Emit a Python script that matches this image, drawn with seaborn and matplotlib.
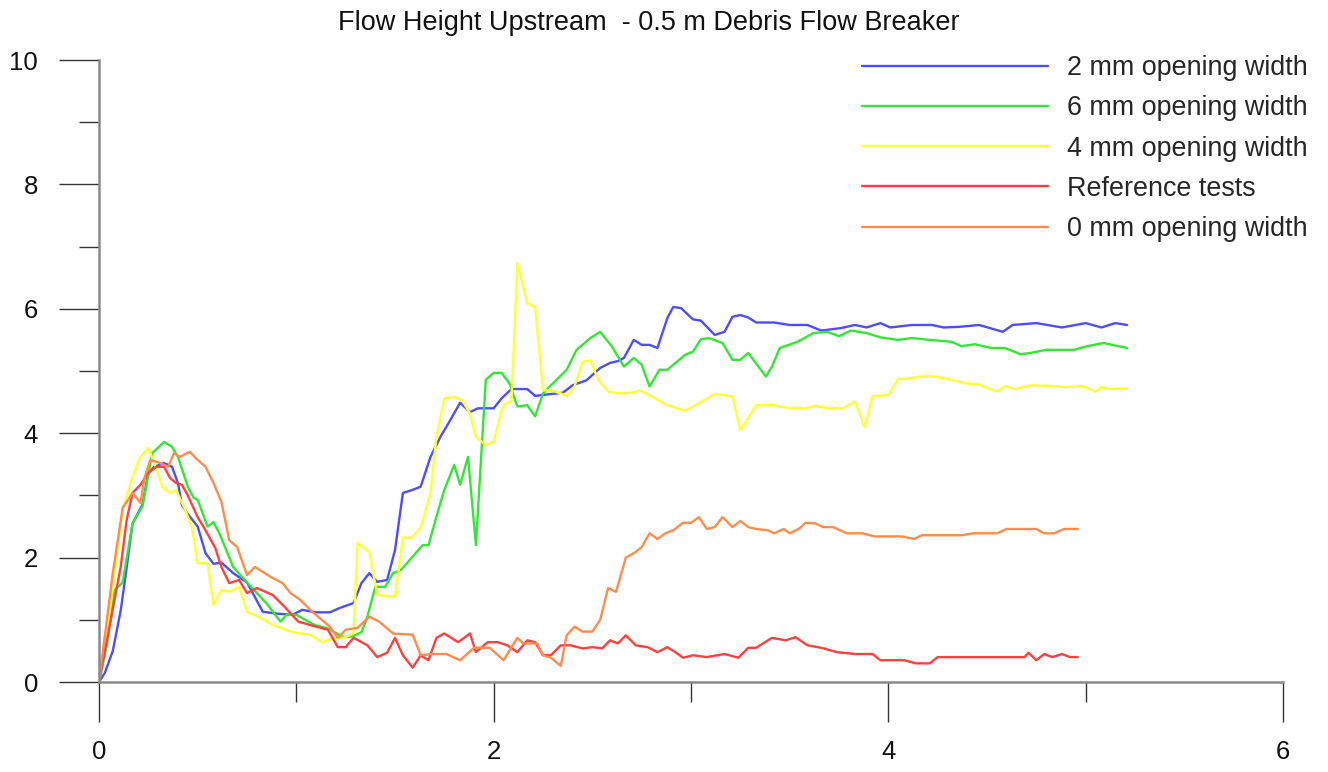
import numpy as np
import pandas as pd
import matplotlib
matplotlib.use("Agg")
import matplotlib.pyplot as plt
import seaborn as sns

# ---------------- data ----------------
blue_x = [0, 0.03, 0.07, 0.11, 0.13, 0.17, 0.22, 0.25, 0.28, 0.33, 0.37, 0.40, 0.42, 0.45, 0.50, 0.54, 0.58, 0.62, 0.68, 0.75,
          0.83, 0.90, 0.98, 1.03, 1.10, 1.17, 1.22, 1.29, 1.33, 1.37, 1.41, 1.46, 1.50, 1.54, 1.59, 1.63, 1.68, 1.73, 1.78, 1.83,
          1.88, 1.92, 2.00, 2.04, 2.09, 2.17, 2.21, 2.29, 2.35, 2.40, 2.47, 2.54, 2.59, 2.63, 2.66, 2.71, 2.75, 2.79, 2.83, 2.88,
          2.91, 2.95, 3.01, 3.05, 3.12, 3.17, 3.21, 3.25, 3.29, 3.33, 3.42, 3.50, 3.59, 3.66, 3.76, 3.83, 3.89, 3.96, 4.01, 4.12,
          4.22, 4.28, 4.36, 4.46, 4.58, 4.63, 4.75, 4.88, 5.00, 5.08, 5.15, 5.21]
blue_y = [0, 0.15, 0.5, 1.15, 1.6, 2.55, 2.85, 3.36, 3.46, 3.52, 3.46, 3.2, 2.85, 2.7, 2.5, 2.07, 1.9, 1.92, 1.75, 1.6,
          1.13, 1.1, 1.08, 1.16, 1.12, 1.12, 1.19, 1.27, 1.59, 1.75, 1.61, 1.64, 2.12, 3.04, 3.09, 3.14, 3.62, 3.94, 4.21, 4.49,
          4.34, 4.4, 4.4, 4.56, 4.71, 4.71, 4.6, 4.63, 4.65, 4.77, 4.85, 5.05, 5.13, 5.16, 5.21, 5.5, 5.42, 5.42, 5.37, 5.85,
          6.03, 6.01, 5.83, 5.81, 5.58, 5.63, 5.87, 5.9, 5.86, 5.78, 5.78, 5.74, 5.74, 5.65, 5.69, 5.74, 5.70, 5.77, 5.70, 5.74,
          5.74, 5.70, 5.71, 5.74, 5.63, 5.74, 5.77, 5.70, 5.77, 5.70, 5.77, 5.74]

green_x = [0, 0.04, 0.08, 0.12, 0.17, 0.22, 0.27, 0.33, 0.37, 0.40, 0.45, 0.48, 0.50, 0.55, 0.58, 0.61, 0.68, 0.73, 0.80, 0.85,
           0.92, 0.95, 1.00, 1.09, 1.16, 1.20, 1.24, 1.28, 1.33, 1.36, 1.40, 1.45, 1.49, 1.53, 1.64, 1.67, 1.71, 1.75, 1.80, 1.83,
           1.87, 1.91, 1.96, 2.00, 2.04, 2.08, 2.12, 2.17, 2.21, 2.25, 2.30, 2.37, 2.42, 2.49, 2.54, 2.60, 2.66, 2.71, 2.75, 2.79,
           2.84, 2.88, 2.97, 3.01, 3.05, 3.09, 3.16, 3.21, 3.25, 3.29, 3.38, 3.41, 3.45, 3.54, 3.62, 3.69, 3.75, 3.81, 3.89, 3.96,
           4.05, 4.12, 4.21, 4.32, 4.37, 4.44, 4.52, 4.59, 4.67, 4.72, 4.80, 4.94, 5.01, 5.09, 5.15, 5.21]
green_y = [0, 0.6, 1.48, 1.6, 2.55, 2.82, 3.68, 3.86, 3.78, 3.62, 3.14, 2.96, 2.93, 2.5, 2.57, 2.39, 1.85, 1.67, 1.43, 1.26,
           0.97, 1.08, 1.08, 0.92, 0.86, 0.79, 0.72, 0.73, 0.80, 1.05, 1.53, 1.53, 1.75, 1.8, 2.2, 2.2, 2.66, 3.09, 3.49, 3.17,
           3.62, 2.2, 4.86, 4.97, 4.97, 4.8, 4.43, 4.45, 4.27, 4.64, 4.8, 5.02, 5.34, 5.53, 5.63, 5.39, 5.07, 5.21, 5.10, 4.75,
           5.02, 5.02, 5.26, 5.31, 5.51, 5.53, 5.45, 5.18, 5.18, 5.29, 4.91, 5.07, 5.37, 5.47, 5.61, 5.63, 5.56, 5.65, 5.61, 5.54,
           5.5, 5.53, 5.50, 5.47, 5.40, 5.43, 5.37, 5.37, 5.27, 5.29, 5.34, 5.34, 5.40, 5.45, 5.41, 5.37]

yellow_x = [0, 0.04, 0.07, 0.12, 0.17, 0.21, 0.25, 0.28, 0.32, 0.36, 0.39, 0.43, 0.47, 0.50, 0.55, 0.58, 0.62, 0.66, 0.71, 0.75,
            0.82, 0.88, 0.98, 1.07, 1.13, 1.19, 1.24, 1.29, 1.31, 1.37, 1.41, 1.50, 1.54, 1.58, 1.63, 1.68, 1.71, 1.75, 1.80, 1.84,
            1.88, 1.91, 1.96, 2.00, 2.04, 2.06, 2.09, 2.12, 2.17, 2.21, 2.25, 2.29, 2.34, 2.37, 2.41, 2.45, 2.49, 2.53, 2.58, 2.63,
            2.70, 2.74, 2.80, 2.88, 2.97, 3.06, 3.12, 3.21, 3.25, 3.33, 3.42, 3.50, 3.58, 3.63, 3.69, 3.77, 3.83, 3.88, 3.92, 4.00,
            4.05, 4.10, 4.16, 4.24, 4.32, 4.39, 4.45, 4.55, 4.59, 4.64, 4.72, 4.82, 4.90, 4.98, 5.05, 5.08, 5.13, 5.21]
yellow_y = [0, 0.8, 1.53, 2.77, 3.3, 3.62, 3.76, 3.52, 3.14, 3.04, 3.09, 2.82, 2.5, 1.91, 1.91, 1.24, 1.48, 1.45, 1.53, 1.13,
            1.03, 0.92, 0.8, 0.76, 0.64, 0.71, 0.71, 0.78, 2.23, 2.09, 1.4, 1.37, 2.33, 2.31, 2.48, 3.04, 3.94, 4.56, 4.58, 4.53,
            4.32, 3.94, 3.81, 3.86, 4.37, 4.48, 4.51, 6.73, 6.09, 6.03, 4.69, 4.69, 4.64, 4.6, 4.75, 5.15, 5.17, 4.86, 4.67, 4.64,
            4.65, 4.69, 4.59, 4.45, 4.36, 4.52, 4.63, 4.59, 4.04, 4.45, 4.45, 4.40, 4.40, 4.44, 4.40, 4.40, 4.51, 4.1, 4.6, 4.61,
            4.87, 4.88, 4.91, 4.91, 4.86, 4.80, 4.79, 4.67, 4.76, 4.71, 4.77, 4.76, 4.74, 4.76, 4.67, 4.74, 4.71, 4.72]

red_x = [0, 0.06, 0.11, 0.14, 0.17, 0.21, 0.25, 0.29, 0.33, 0.36, 0.39, 0.42, 0.45, 0.50, 0.54, 0.59, 0.62, 0.66, 0.71, 0.75,
         0.80, 0.88, 0.94, 1.01, 1.10, 1.16, 1.21, 1.25, 1.29, 1.36, 1.41, 1.46, 1.50, 1.54, 1.59, 1.63, 1.67, 1.71, 1.75, 1.82,
         1.88, 1.91, 1.97, 2.02, 2.07, 2.12, 2.17, 2.21, 2.25, 2.29, 2.34, 2.39, 2.45, 2.50, 2.55, 2.59, 2.63, 2.67, 2.72, 2.78,
         2.83, 2.88, 2.92, 2.96, 3.01, 3.08, 3.17, 3.24, 3.29, 3.33, 3.41, 3.48, 3.53, 3.59, 3.66, 3.74, 3.83, 3.92, 3.96, 4.08,
         4.14, 4.21, 4.25, 4.41, 4.59, 4.69, 4.71, 4.75, 4.79, 4.83, 4.88, 4.92, 4.96]
red_y = [0, 1.0, 1.85, 2.6, 3.04, 3.17, 3.36, 3.46, 3.46, 3.28, 3.2, 3.17, 3.0, 2.65, 2.44, 2.15, 1.85, 1.59, 1.64, 1.43,
         1.51, 1.40, 1.21, 0.97, 0.89, 0.84, 0.56, 0.56, 0.71, 0.59, 0.40, 0.47, 0.71, 0.43, 0.23, 0.43, 0.35, 0.71, 0.78, 0.64,
         0.78, 0.48, 0.64, 0.64, 0.59, 0.48, 0.67, 0.64, 0.43, 0.43, 0.59, 0.59, 0.54, 0.56, 0.54, 0.67, 0.62, 0.75, 0.59, 0.56,
         0.48, 0.56, 0.48, 0.39, 0.43, 0.40, 0.45, 0.39, 0.55, 0.55, 0.71, 0.67, 0.72, 0.59, 0.55, 0.48, 0.45, 0.45, 0.35, 0.35,
         0.30, 0.30, 0.40, 0.40, 0.40, 0.40, 0.47, 0.35, 0.45, 0.40, 0.45, 0.40, 0.40]

orange_x = [0, 0.07, 0.12, 0.17, 0.21, 0.23, 0.26, 0.31, 0.35, 0.38, 0.41, 0.46, 0.50, 0.54, 0.58, 0.62, 0.66, 0.70, 0.75, 0.79,
            0.87, 0.93, 0.97, 1.02, 1.08, 1.17, 1.21, 1.25, 1.31, 1.37, 1.42, 1.49, 1.59, 1.63, 1.69, 1.76, 1.83, 1.90, 1.98, 2.05,
            2.12, 2.15, 2.22, 2.25, 2.29, 2.34, 2.37, 2.41, 2.45, 2.50, 2.54, 2.58, 2.62, 2.67, 2.72, 2.75, 2.79, 2.83, 2.87, 2.91,
            2.96, 3.00, 3.04, 3.08, 3.12, 3.16, 3.21, 3.25, 3.29, 3.33, 3.39, 3.42, 3.47, 3.50, 3.55, 3.58, 3.63, 3.67, 3.72, 3.79,
            3.87, 3.93, 4.07, 4.13, 4.17, 4.37, 4.43, 4.55, 4.60, 4.75, 4.79, 4.84, 4.89, 4.96]
orange_y = [0, 1.75, 2.8, 3.04, 2.88, 3.28, 3.57, 3.52, 3.46, 3.68, 3.62, 3.7, 3.57, 3.46, 3.2, 2.9, 2.28, 2.17, 1.72, 1.85,
            1.69, 1.59, 1.43, 1.32, 1.13, 0.89, 0.71, 0.84, 0.87, 1.05, 0.97, 0.78, 0.76, 0.43, 0.45, 0.45, 0.35, 0.55, 0.55, 0.35,
            0.71, 0.62, 0.62, 0.43, 0.39, 0.26, 0.75, 0.89, 0.81, 0.81, 1.0, 1.51, 1.45, 2.0, 2.09, 2.17, 2.39, 2.3, 2.39, 2.44,
            2.56, 2.56, 2.65, 2.46, 2.49, 2.65, 2.49, 2.59, 2.49, 2.46, 2.44, 2.39, 2.46, 2.39, 2.47, 2.56, 2.55, 2.49, 2.49, 2.39,
            2.39, 2.34, 2.34, 2.30, 2.36, 2.36, 2.39, 2.39, 2.46, 2.46, 2.39, 2.39, 2.46, 2.46]

series_names = ["2 mm opening width", "6 mm opening width", "4 mm opening width",
                "Reference tests", "0 mm opening width"]
series_colors = ["#4d4dff", "#33e633", "#ffff33", "#ff4040", "#ff8c4d"]
x_ticks = [0, 2, 4, 6]
y_ticks = [0, 2, 4, 6, 8, 10]
title = "Flow Height Upstream  - 0.5 m Debris Flow Breaker"

# ---------------- build long table ----------------
xs = [blue_x, green_x, yellow_x, red_x, orange_x]
ys = [blue_y, green_y, yellow_y, red_y, orange_y]
frames = []
for name, x, y in zip(series_names, xs, ys):
    frames.append(pd.DataFrame({"t": x, "h": y, "series": name}))
df = pd.concat(frames, ignore_index=True)

# ---------------- plot ----------------
sns.set_style("ticks")
plt.rcParams["font.family"] = ["Liberation Sans", "DejaVu Sans"]

W, H = 1328, 772
fig = plt.figure(figsize=(W / 100, H / 100), dpi=100)
ax = fig.add_axes([99 / W, (H - 682) / H, 1184 / W, 622 / H])

sns.lineplot(data=df, x="t", y="h", hue="series", hue_order=series_names,
             palette=dict(zip(series_names, series_colors)), estimator=None,
             sort=False, units="series", linewidth=1.7, ax=ax, legend=True)

ax.set_xlim(0, 6)
ax.set_ylim(0, 10)
ax.set_xlabel("")
ax.set_ylabel("")
ax.set_xticks(x_ticks)
ax.set_yticks(y_ticks)
ax.set_xticks([1, 3, 5], minor=True)
ax.set_yticks([1, 3, 5, 7, 9], minor=True)
ax.set_xticklabels([str(v) for v in x_ticks])
ax.set_yticklabels([str(v) for v in y_ticks])

for side in ["top", "right"]:
    ax.spines[side].set_visible(False)
for side in ["left", "bottom"]:
    ax.spines[side].set_color("#8a8a8a")
    ax.spines[side].set_linewidth(1.8)

ax.tick_params(axis="both", which="major", direction="out", length=28.8, width=1.0,
               color="#333333", labelsize=18.5, labelcolor="#111111")
ax.tick_params(axis="both", which="minor", direction="out", length=14.4, width=1.0,
               color="#333333")
ax.tick_params(axis="y", which="major", pad=15)
ax.tick_params(axis="x", which="major", pad=13)

handles, labels = ax.get_legend_handles_labels()
ax.legend(handles, labels, loc="upper left", bbox_to_anchor=(862 / W, 1 - 55 / H),
          bbox_transform=fig.transFigure, frameon=False, fontsize=19.4,
          handlelength=6.9, handletextpad=0.72, labelspacing=0.53,
          borderpad=0, borderaxespad=0)

fig.text(649 / W, 1 - 23 / H, title, ha="center", va="center", fontsize=19.5, color="#111111")

fig.savefig("out.png", dpi=100)
